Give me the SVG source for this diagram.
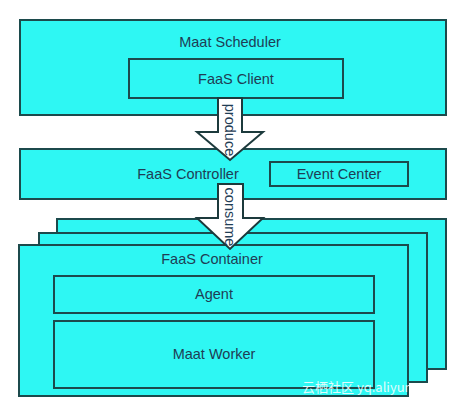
<svg xmlns="http://www.w3.org/2000/svg" width="465" height="408" viewBox="0 0 465 408">
<style>
.box{fill:#2ef7f3;stroke:#1c4a4c;stroke-width:2}
.t{font-family:"Liberation Sans",Arial,sans-serif;font-size:14.5px;fill:#1f3d55;text-anchor:middle;dominant-baseline:central}
.arr{fill:#ffffff;stroke:#1c3a3c;stroke-width:2;stroke-linejoin:miter}
.wm{font-family:"Noto Sans CJK SC","Liberation Sans",sans-serif;font-size:13px;fill:#ffffff;opacity:0.85}
</style>
<rect width="465" height="408" fill="#ffffff"/>
<g id="maat-scheduler">
<rect class="box" x="20" y="20" width="426" height="95"/>
<text class="t" x="230" y="42">Maat Scheduler</text>
</g>
<g id="faas-client">
<rect class="box" x="129" y="59" width="214" height="39"/>
<text class="t" x="236" y="79">FaaS Client</text>
</g>
<g id="faas-controller">
<rect class="box" x="20" y="149" width="426" height="50"/>
<text class="t" x="188" y="174">FaaS Controller</text>
</g>
<g id="event-center">
<rect class="box" x="270" y="162" width="138" height="24"/>
<text class="t" x="339" y="174">Event Center</text>
</g>
<g id="container-back">
<rect class="box" x="57" y="219" width="389" height="150"/>
</g>
<g id="container-middle">
<rect class="box" x="39" y="233" width="388" height="149"/>
</g>
<g id="faas-container">
<rect class="box" x="19" y="245" width="389" height="151"/>
<text class="t" x="212" y="259">FaaS Container</text>
</g>
<g id="agent">
<rect class="box" x="54" y="276" width="320" height="37"/>
<text class="t" x="214" y="294">Agent</text>
</g>
<g id="maat-worker">
<rect class="box" x="54" y="321" width="320" height="67"/>
<text class="t" x="214" y="354">Maat Worker</text>
</g>
<g id="connectors">
<path class="arr" d="M218,98 L242,98 L242,132 L263,132 L230,160 L197,132 L218,132 Z"/>
<text class="t" transform="translate(230,130) rotate(90)">produce</text>
<path class="arr" d="M218,184 L243,184 L243,218 L263,218 L230,249 L197,218 L218,218 Z"/>
<text class="t" transform="translate(230,217) rotate(90)">consume</text>
</g>
<text class="wm" x="302" y="392">云栖社区 yq.aliyun.com</text>
</svg>
